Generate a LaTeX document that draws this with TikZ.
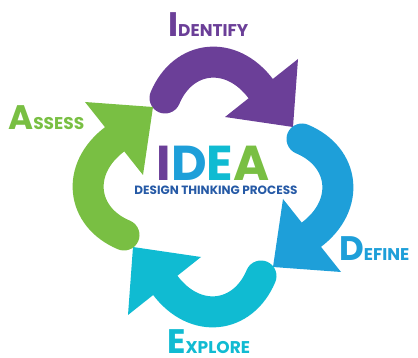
\documentclass[tikz,border=0pt]{standalone}
\usepackage{fontspec}
\setmainfont{Poppins}
\definecolor{cpurple}{RGB}{107,63,152}
\definecolor{cblue}{RGB}{30,159,217}
\definecolor{ccyan}{RGB}{16,187,210}
\definecolor{cgreen}{RGB}{121,191,67}
\definecolor{cnavy}{RGB}{38,90,166}
\newcommand\ideaarrow[2]{%
  \begin{scope}[shift={(213,-187)},rotate=#2]
    \draw[#1,line width=31,line cap=round] (-48,89) .. controls (-30,132) and (18,138) .. (48,98);
    \fill[#1] (85,128) -- (80,60) -- (12,70) -- cycle;
  \end{scope}}
\begin{document}
\begin{tikzpicture}[x=1pt,y=1pt,
  lbl/.style={anchor=base west,inner sep=0,font=\bfseries}]
\useasboundingbox (0,-358) rectangle (418,0);
\ideaarrow{cpurple}{0}
\ideaarrow{cblue}{-90}
\ideaarrow{ccyan}{180}
\ideaarrow{cgreen}{90}
\node[lbl,text=cpurple] (identify) at (168,-37) {\fontsize{34}{34}\selectfont I\fontsize{17}{17}\selectfont DENTIFY};
\node[lbl,text=cgreen] (assess) at (8,-130) {\fontsize{34}{34}\selectfont A\fontsize{17}{17}\selectfont SSESS};
\node[lbl,text=cblue] (define) at (339,-261) {\fontsize{34}{34}\selectfont D\fontsize{17}{17}\selectfont EFINE};
\node[lbl,text=ccyan] (explore) at (167,-353.5) {\fontsize{34}{34}\selectfont E\fontsize{17}{17}\selectfont XPLORE};
\node[anchor=base,inner sep=0,font=\fontsize{49}{49}\selectfont\bfseries] (idea) at (213,-181)
  {\textcolor{cpurple}{I}\textcolor{cblue}{D}\textcolor{ccyan}{E}\textcolor{cgreen}{A}};
\node[anchor=base,inner sep=0,text=cnavy,font=\fontsize{12}{12}\selectfont\bfseries] (sub) at (216,-195)
  {DESIGN THINKING PROCESS};
\end{tikzpicture}
\end{document}
